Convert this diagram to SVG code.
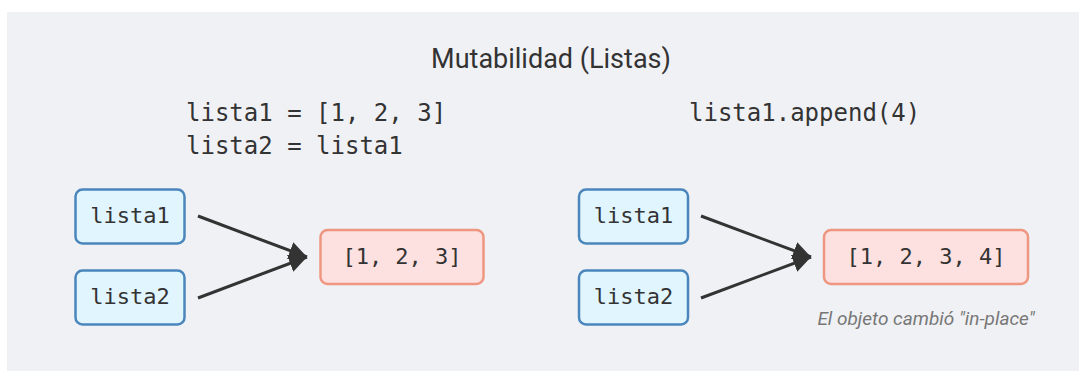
<svg xmlns="http://www.w3.org/2000/svg" width="1086" height="371" viewBox="0 0 1086 371">
<style>
.bg{fill:#f0f1f5}
.title{font-family:Roboto,"Liberation Sans",sans-serif;font-size:27px;fill:#333;text-anchor:middle}
.code{font-family:"DejaVu Sans Mono","Liberation Mono",monospace;font-size:24px;fill:#333}
.var rect{fill:#e1f5fe;stroke:#4a86bc;stroke-width:2.5}
.obj rect{fill:#fde0e0;stroke:#ee9680;stroke-width:2.5}
.lbl{font-family:"DejaVu Sans Mono","Liberation Mono",monospace;font-size:22px;fill:#333;text-anchor:middle}
.note{font-family:Roboto,"Liberation Sans",sans-serif;font-style:italic;font-size:19px;fill:#777;text-anchor:middle}
.conn line{stroke:#333;stroke-width:3}
</style>
<defs>
<marker id="ah" viewBox="0 0 10 10" refX="10" refY="5" markerWidth="6" markerHeight="6" markerUnits="strokeWidth" orient="auto">
<path d="M0,0 L10,5 L0,10 Z" fill="#333"/>
</marker>
</defs>
<rect class="bg" x="7" y="12" width="1072" height="359"/>
<text class="title" x="551" y="68">Mutabilidad (Listas)</text>
<text class="code" x="186" y="121">lista1 = [1, 2, 3]</text>
<text class="code" x="186" y="154">lista2 = lista1</text>
<text class="code" x="689" y="121">lista1.append(4)</text>

<g id="l_lista1" class="var"><rect x="75.5" y="189.5" width="109" height="54" rx="7"/><text class="lbl" x="130" y="223">lista1</text></g>
<g id="l_lista2" class="var"><rect x="75.5" y="270.5" width="109" height="54" rx="7"/><text class="lbl" x="130" y="304">lista2</text></g>
<g id="l_obj" class="obj"><rect x="320.5" y="230" width="163" height="54" rx="7"/><text class="lbl" x="402" y="264">[1, 2, 3]</text></g>

<g id="r_lista1" class="var"><rect x="579" y="189.5" width="109" height="54" rx="7"/><text class="lbl" x="633.5" y="223">lista1</text></g>
<g id="r_lista2" class="var"><rect x="579" y="270.5" width="109" height="54" rx="7"/><text class="lbl" x="633.5" y="304">lista2</text></g>
<g id="r_obj" class="obj"><rect x="824" y="230" width="204" height="54" rx="7"/><text class="lbl" x="926" y="264">[1, 2, 3, 4]</text></g>
<text class="note" x="926" y="325">El objeto cambió "in-place"</text>

<g id="connectors" class="conn">
<line x1="198" y1="216" x2="307" y2="257" marker-end="url(#ah)"/>
<line x1="198" y1="298" x2="307" y2="257" marker-end="url(#ah)"/>
<line x1="701" y1="216" x2="811" y2="257" marker-end="url(#ah)"/>
<line x1="701" y1="298" x2="811" y2="257" marker-end="url(#ah)"/>
</g>
</svg>
